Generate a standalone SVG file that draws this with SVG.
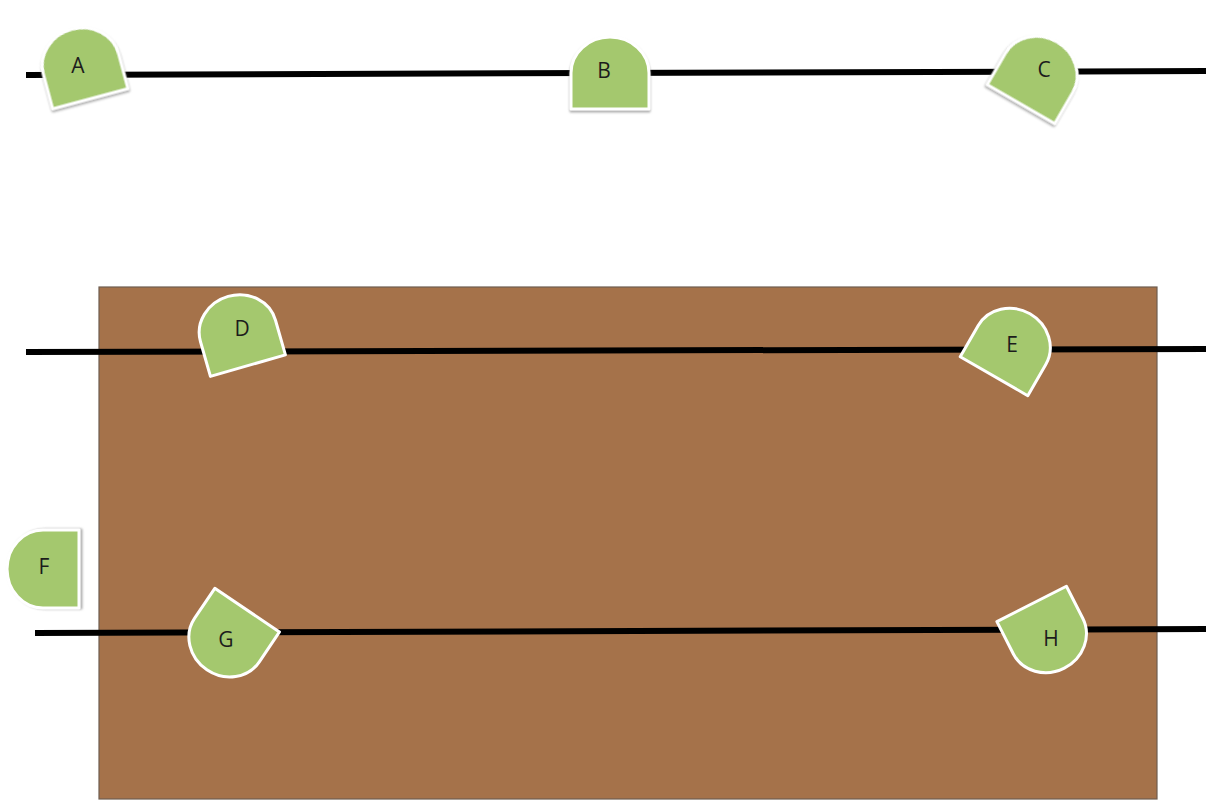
<svg xmlns="http://www.w3.org/2000/svg" width="1206" height="801" viewBox="0 0 1206 801">
<style>
.line{stroke:#000;stroke-width:6;fill:none;stroke-linecap:butt}
.shape{fill:#A4C86E;stroke:#fff;stroke-width:3;stroke-linejoin:round}
.lbl{font-family:"Open Sans","Liberation Sans",sans-serif;font-size:21px;fill:#1c1c1c;text-anchor:middle;dominant-baseline:central}
</style>
<defs>
<path id="tomb" d="M-39,36 L-39,0 A39,36 0 0 1 39,0 L39,36 Z"/>
<filter id="sh" x="-30%" y="-30%" width="160%" height="160%">
<feDropShadow dx="0" dy="2" stdDeviation="1" flood-color="#8a8a8a" flood-opacity="0.7"/>
</filter>
</defs>
<rect width="1206" height="801" fill="#fff"/>
<rect id="field" x="99" y="287" width="1058" height="512" fill="#A5724A" stroke="#6e5e50" stroke-width="1.2"/>
<g id="connectors">
<line class="line" x1="26" y1="75" x2="1206" y2="71"/>
<line class="line" x1="26" y1="352" x2="1206" y2="349"/>
<line class="line" x1="35" y1="633" x2="1206" y2="629"/>
</g>
<g id="A"><use href="#tomb" class="shape" filter="url(#sh)" transform="translate(81,64) rotate(-15)"/><text class="lbl" x="78" y="65">A</text></g>
<g id="B"><use href="#tomb" class="shape" filter="url(#sh)" transform="translate(610,73)"/><text class="lbl" x="604" y="70">B</text></g>
<g id="C"><use href="#tomb" class="shape" filter="url(#sh)" transform="translate(1039,73) rotate(30)"/><text class="lbl" x="1044" y="69">C</text></g>
<g id="D"><use href="#tomb" class="shape" transform="translate(238,331) rotate(-16)"/><text class="lbl" x="242" y="328">D</text></g>
<g id="E"><use href="#tomb" class="shape" transform="translate(1012,345) rotate(30)"/><text class="lbl" x="1012" y="344">E</text></g>
<g id="F"><use href="#tomb" class="shape" filter="url(#sh)" transform="translate(43,569) rotate(-90)"/><text class="lbl" x="44" y="566">F</text></g>
<g id="G"><use href="#tomb" class="shape" transform="translate(227,640) rotate(-146)"/><text class="lbl" x="226" y="639">G</text></g>
<g id="H"><use href="#tomb" class="shape" transform="translate(1048,636) rotate(153)"/><text class="lbl" x="1051" y="638">H</text></g>
</svg>
